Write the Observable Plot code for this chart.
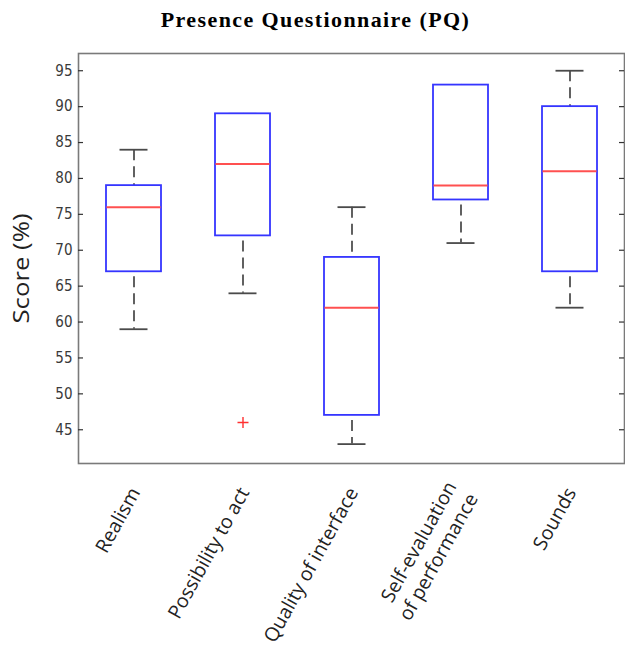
<!DOCTYPE html>
<html>
<head>
<meta charset="utf-8">
<script src="https://cdn.jsdelivr.net/npm/d3@7"></script>
<script src="https://cdn.jsdelivr.net/npm/@observablehq/plot@0.6"></script>
<style>
  body { margin: 0; background: #fff; }
  #title { width: 625px; height: 40px; box-sizing: border-box; padding-top: 10px; padding-left: 6px; text-align: center;
    font-family: "Liberation Serif", "Times New Roman", serif; font-weight: bold; font-size: 22px; letter-spacing: 1.4px; line-height: 20px; color: #000; }
</style>
</head>
<body>
<div id="title">Presence Questionnaire (PQ)</div>
<div id="chart"></div>
<script>
const categories = ["Realism", "Possibility to act", "Quality of interface", "Self-evaluation\nof performance", "Sounds"];
const lowerWhisker = [59, 64, 43, 71, 62];
const q1 = [67, 72, 47, 77, 67];
const median = [76, 82, 62, 79, 81];
const q3 = [79, 89, 69, 93, 90];
const upperWhisker = [84, 89, 76, 93, 95];
const outlierCategories = ["Possibility to act"];
const outlierValues = [46];
const yTicks = [45, 50, 55, 60, 65, 70, 75, 80, 85, 90, 95];
const yLabel = "Score (%)";

const boxes = categories.map((c, i) => ({
  cat: c, lo: lowerWhisker[i], q1: q1[i], med: median[i], q3: q3[i], hi: upperWhisker[i]
}));
const outliers = outlierCategories.map((c, i) => ({cat: c, value: outlierValues[i]}));

const plusSymbol = {
  draw(context, size) {
    const h = Math.sqrt(size / Math.PI);
    context.moveTo(-h, 0); context.lineTo(h, 0);
    context.moveTo(0, -h); context.lineTo(0, h);
  }
};

const W = 625, H = 612, mL = 78, mR = 1, mT = 13, mB = 189;
const frameW = W - mL - mR;

const chart = Plot.plot({
  width: W, height: H,
  marginLeft: mL, marginRight: mR, marginTop: mT, marginBottom: mB,
  style: {fontFamily: "'Open Sans', 'Noto Sans', sans-serif", background: "#fff"},
  x: {type: "band", domain: categories, paddingInner: 0, paddingOuter: 0, axis: null},
  y: {domain: [40.3, 97.4], axis: null},
  marks: [
    // whiskers
    Plot.ruleX(boxes, {x: "cat", y1: "hi", y2: "q3", stroke: "#3a3a3a", strokeWidth: 1.6, strokeDasharray: "11,6"}),
    Plot.ruleX(boxes, {x: "cat", y1: "q1", y2: "lo", stroke: "#3a3a3a", strokeWidth: 1.6, strokeDasharray: "11,6", strokeDashoffset: 12}),
    // caps
    Plot.tickY(boxes, {x: "cat", y: "hi", stroke: "#4a4a4a", strokeWidth: 1.8, inset: 40.5}),
    Plot.tickY(boxes, {x: "cat", y: "lo", stroke: "#4a4a4a", strokeWidth: 1.8, inset: 40.5}),
    // boxes
    Plot.barY(boxes, {x: "cat", y1: "q1", y2: "q3", fill: "white", stroke: "#3535ff", strokeWidth: 1.8, insetLeft: 27, insetRight: 27}),
    // medians
    Plot.tickY(boxes, {x: "cat", y: "med", stroke: "#ff5050", strokeWidth: 2, inset: 27.5}),
    // outliers
    Plot.dot(outliers, {x: "cat", y: "value", symbol: plusSymbol, r: 5.5, stroke: "#ff3030", strokeWidth: 1.4, fill: "none"}),
    // frame
    Plot.frame({stroke: "#7a7a7a", strokeWidth: 1.6}),
    // inward ticks left and right
    Plot.tickY(yTicks, {y: d => d, insetRight: frameW - 5, stroke: "#333", strokeWidth: 1.2}),
    Plot.tickY(yTicks, {y: d => d, insetLeft: frameW - 5, stroke: "#333", strokeWidth: 1.2}),
    // y tick labels
    Plot.axisY({ticks: yTicks, tickSize: 0, tickPadding: 6, label: null, fontSize: 15, color: "#3a3a3a",
      fontFamily: "'DejaVu Sans Condensed', 'Liberation Sans Narrow', sans-serif"}),
    // y axis label
    Plot.text([yLabel], {frameAnchor: "left", text: d => d, rotate: -90, dx: -56, dy: 10,
      fontSize: 21, fill: "#222", textAnchor: "middle", lineAnchor: "middle", className: "ylab"}),
    // x category labels
    Plot.text(categories, {x: d => d, text: d => d, frameAnchor: "bottom", dy: 25, rotate: -61,
      textAnchor: "end", lineAnchor: "middle", lineHeight: 1.25, fontSize: 19.5, fill: "#222"})
  ]
});
document.getElementById("chart").appendChild(chart);
d3.select(chart).selectAll(".ylab text")
  .attr("textLength", 110).attr("lengthAdjust", "spacingAndGlyphs");
</script>
</body>
</html>
